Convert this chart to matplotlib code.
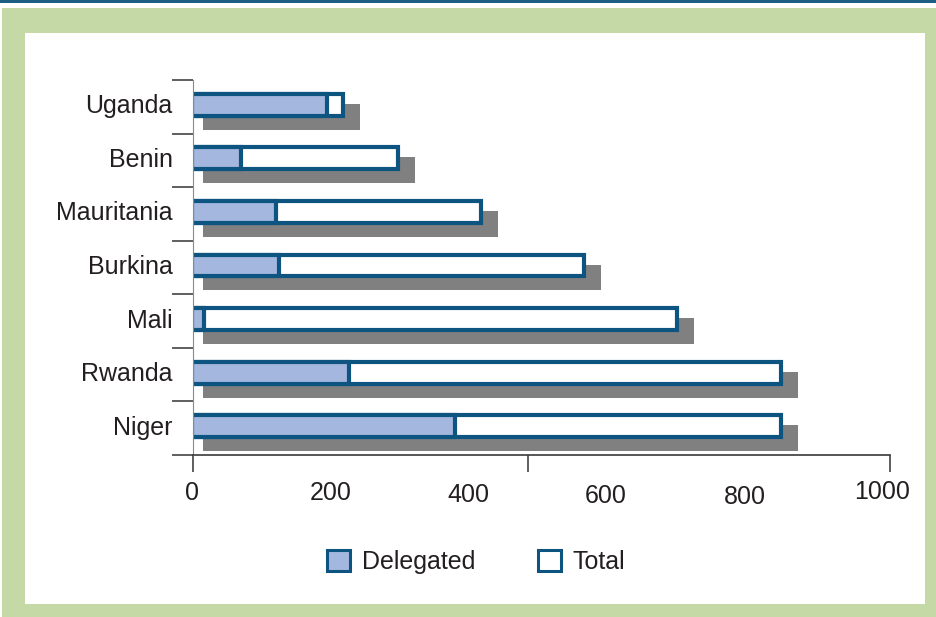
import matplotlib
matplotlib.use('Agg')
import matplotlib.pyplot as plt
import numpy as np
from matplotlib import transforms
from matplotlib.patches import Rectangle, Patch

# ---- data ----
countries = ['Niger', 'Rwanda', 'Mali', 'Burkina', 'Mauritania', 'Benin', 'Uganda']
total = [845, 845, 696, 562, 414, 295, 216]
delegated = [377, 225, 17, 125, 120, 70, 194]
xtick_values = [0, 200, 400, 600, 800, 1000]
xtick_labels = ['0', '200', '400', '600', '800', '1000']
xtick_marks = [0, 480, 1000]

# ---- styling ----
plt.rcParams['font.family'] = ['Liberation Sans', 'DejaVu Sans']
W, H = 936, 617
EDGE = '#0d5580'
DELEG = '#a4b7de'
SHADOW = '#808080'
GREEN = '#c5d9a7'
TXT = '#231f20'
FS = 18
label_dy = [38, 38, 40, 41, 42, 37]      # px below axis
label_dx = [-1, -1.5, -3, -6, -6, -7.5]  # px shift
SHADOW_PAD = 8                            # extra shadow width on the left (x units)

fig = plt.figure(figsize=(W / 100, H / 100), dpi=100)
fig.patch.set_facecolor('white')

# frame
fig.patches.append(Rectangle((2 / W, 0), 1 - 2 / W, 1 - 8 / H, transform=fig.transFigure,
                             facecolor=GREEN, edgecolor='none', zorder=-3))
fig.patches.append(Rectangle((25 / W, 1 - 604 / H), 900 / W, (604 - 33) / H,
                             transform=fig.transFigure, facecolor='white',
                             edgecolor='none', zorder=-2))
fig.patches.append(Rectangle((0, 1 - 3 / H), 1, 3 / H, transform=fig.transFigure,
                             facecolor='#1d5e84', edgecolor='none', zorder=-2))

ax = fig.add_axes([193 / W, 1 - 455 / H, (890 - 193) / W, (455 - 80) / H])
ax.patch.set_alpha(0)

y = np.arange(len(countries))
bar_h = 0.41
bar_tr = transforms.offset_copy(ax.transData, fig=fig, x=-1, y=2, units='dots')
shadow_tr = transforms.offset_copy(ax.transData, fig=fig, x=16, y=-10, units='dots')
ax.barh(y, np.array(total) + SHADOW_PAD, left=-SHADOW_PAD, height=bar_h + 4 / 53.6,
        color=SHADOW, edgecolor='none', transform=shadow_tr, zorder=1)
ax.barh(y, total, height=bar_h, facecolor='white', edgecolor=EDGE, linewidth=3,
        transform=bar_tr, zorder=2)
ax.barh(y, delegated, height=bar_h, facecolor=DELEG, edgecolor=EDGE, linewidth=3,
        transform=bar_tr, zorder=2.1)

ax.set_xlim(0, 1000)
ax.set_ylim(-0.5, len(countries) - 0.5)

for s in ['top', 'right']:
    ax.spines[s].set_visible(False)
ax.spines['left'].set_color('#8a8a8a')
ax.spines['left'].set_linewidth(0.8)
ax.spines['bottom'].set_color('#3a3a3a')
ax.spines['bottom'].set_linewidth(1.2)

ax.set_yticks(y)
ax.set_yticklabels(countries)
ax.set_yticks(np.arange(-0.5, len(countries), 1), minor=True)
ax.tick_params(axis='y', which='major', length=0, pad=14.5, labelsize=FS, labelcolor=TXT)
ax.tick_params(axis='y', which='minor', length=15, width=1.1, color='#333333', direction='out')
for lab in ax.get_yticklabels():
    lab.set_transform(lab.get_transform() + transforms.ScaledTranslation(0, 3 / 100, fig.dpi_scale_trans))

ax.set_xticks(xtick_marks)
ax.set_xticklabels([''] * len(xtick_marks))
ax.tick_params(axis='x', which='major', length=12, width=1.1, color='#333333', direction='out')

for v, lab, dy, dx in zip(xtick_values, xtick_labels, label_dy, label_dx):
    tr = transforms.offset_copy(ax.get_xaxis_transform(), fig=fig, x=dx, y=-dy, units='dots')
    ax.text(v, 0, lab, transform=tr, ha='center', va='center', fontsize=FS, color=TXT)

handles = [Patch(facecolor=DELEG, edgecolor=EDGE, linewidth=2.2, label='Delegated'),
           Patch(facecolor='white', edgecolor=EDGE, linewidth=2.2, label='Total')]
leg = fig.legend(handles=handles, loc='center', bbox_to_anchor=(476 / W, 1 - 562 / H),
                 ncol=2, frameon=False, fontsize=FS, handlelength=0.92, handleheight=0.92,
                 handletextpad=0.48, columnspacing=2.5)
for t in leg.get_texts():
    t.set_color(TXT)

fig.savefig('out.png', dpi=100)
